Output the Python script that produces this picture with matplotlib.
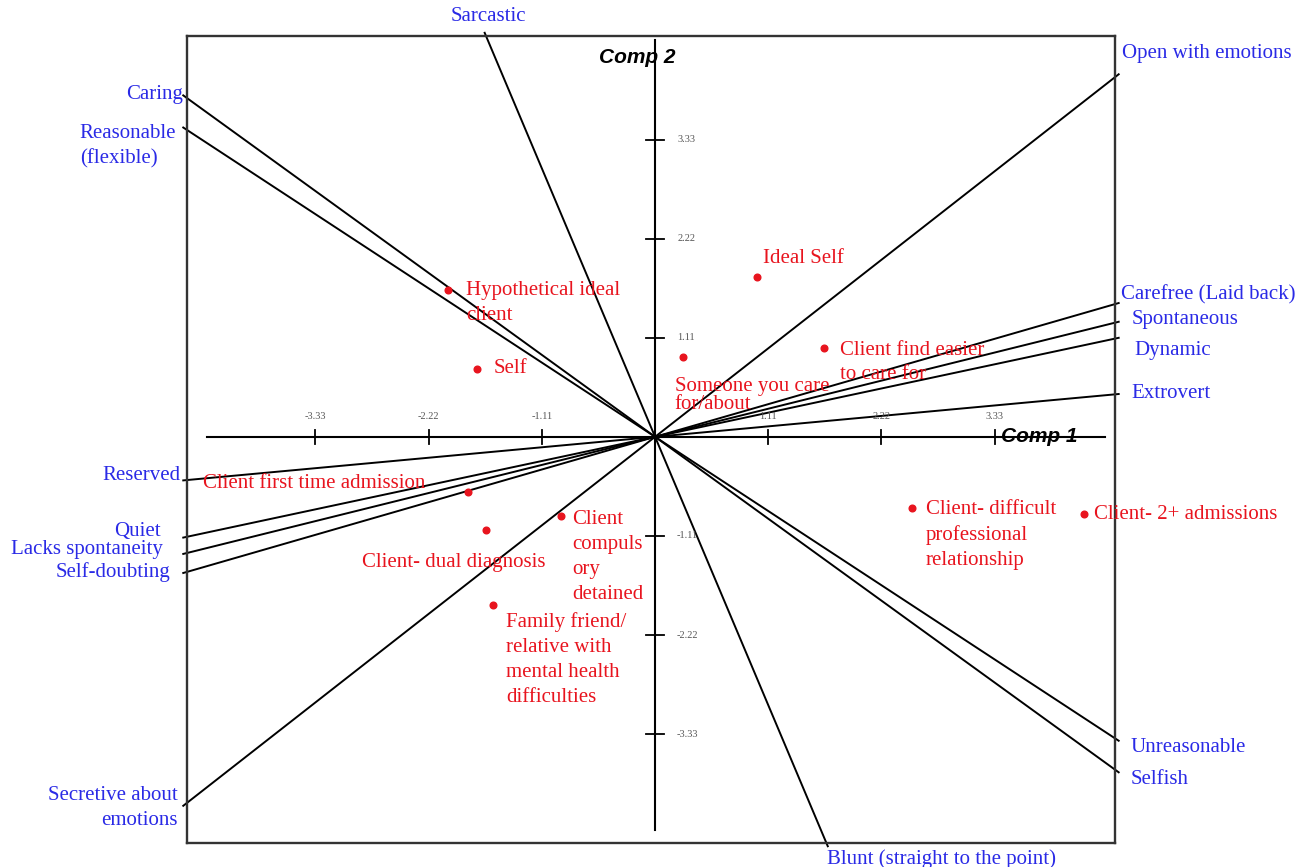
import numpy as np
import matplotlib.pyplot as plt

# construct poles: loadings of the right-hand pole on (Comp 1, Comp 2)
pole_pos = ['Open with emotions', 'Selfish', 'Unreasonable', 'Carefree (Laid back)',
            'Spontaneous', 'Dynamic', 'Extrovert', 'Blunt (straight to the point)']
pole_neg = ['Secretive about\nemotions', 'Caring', 'Reasonable\n(flexible)', 'Self-doubting',
            'Lacks spontaneity', 'Quiet', 'Reserved', 'Sarcastic']
load_c1 = [4.50, 4.50, 4.50, 4.55, 4.55, 4.55, 4.55, 1.68]
load_c2 = [4.02, -3.72, -3.37, 1.50, 1.29, 1.11, 0.48, -4.55]

# elements (role figures)
elements = ['Ideal Self', 'Hypothetical ideal\nclient', 'Self', 'Someone you care\nfor/about',
            'Client find easier\nto care for', 'Client first time admission',
            'Client- dual diagnosis', 'Client\ncompuls\nory\ndetained',
            'Family friend/\nrelative with\nmental health\ndifficulties',
            'Client- difficult\nprofessional\nrelationship', 'Client- 2+ admissions']
elem_c1 = [1.00, -2.03, -1.75, 0.27, 1.66, -1.83, -1.66, -0.92, -1.59, 2.52, 4.21]
elem_c2 = [1.79, 1.64, 0.76, 0.89, 1.00, -0.62, -1.04, -0.89, -1.88, -0.80, -0.86]

ticks = [-3.33, -2.22, -1.11, 1.11, 2.22, 3.33]

xmin, xmax = -4.59, 4.51
ymin, ymax = -4.55, 4.49

RED = '#e8141e'
BLUE = '#2a2ae6'
SERIF = 'Liberation Serif'
FS = 15

fig = plt.figure(figsize=(12.98, 8.67), dpi=100)
ax = fig.add_axes([187 / 1298, 1 - 843 / 867, 928 / 1298, 807 / 867])
ax.set_xlim(xmin, xmax)
ax.set_ylim(ymin, ymax)
ax.set_xticks([])
ax.set_yticks([])
for s in ax.spines.values():
    s.set_linewidth(1.7)
    s.set_color('#333333')

# axes through the origin
ax.plot([-4.39, 4.41], [0, 0], color='black', lw=1.5)
ax.plot([0, 0], [-4.40, 4.45], color='black', lw=1.5)
for t in ticks:
    ax.plot([t, t], [-0.08, 0.08], color='black', lw=1.3)
    ax.plot([-0.09, 0.09], [t, t], color='black', lw=1.3)
    ax.annotate(f'{t:.2f}', (t, 0), xytext=(0, 20), textcoords='offset pixels',
                ha='center', va='center', fontsize=7.5, color='#555555', family=SERIF)
    ax.annotate(f'{t:.2f}', (0, t), xytext=(22, 0), textcoords='offset pixels',
                ha='left', va='center', fontsize=7.5, color='#555555', family=SERIF)

ax.annotate('Comp 1', (3.33, 0), xytext=(6, 0), textcoords='offset pixels', ha='left',
            va='center', fontsize=15, fontweight='bold', fontstyle='italic', family='Liberation Sans')
ax.text(-0.17, 4.25, 'Comp 2', ha='center', va='center', fontsize=15,
        fontweight='bold', fontstyle='italic', family='Liberation Sans')


def hit_frame(vx, vy):
    # scale factor that takes (vx, vy) out to the frame
    ts = []
    ts.append((xmax if vx > 0 else xmin) / vx)
    ts.append((ymax if vy > 0 else ymin) / vy)
    return min(ts)


# label offsets in pixels: (positive pole), (negative pole)
pos_off = [((3, 21), 'left'), ((12, -7), 'left'), ((12, -7), 'left'), ((2, 8), 'left'),
           ((13, 2), 'left'), ((16, -13), 'left'), ((13, 1), 'left'), ((114, -13), 'center')]
neg_off = [((-6, -2), 'right'), ((0, 1), 'right'), ((-7, -19), 'right'), ((-13, 1), 'right'),
           ((-20, 4), 'right'), ((-23, 6), 'right'), ((-3, 5), 'right'), ((4, 16), 'center')]

for i in range(len(pole_pos)):
    vx, vy = load_c1[i], load_c2[i]
    tp = hit_frame(vx, vy) * 1.008
    tn = hit_frame(-vx, -vy) * 1.008
    p1 = (vx * tp, vy * tp)
    p0 = (-vx * tn, -vy * tn)
    ax.plot([p0[0], p1[0]], [p0[1], p1[1]], color='black', lw=1.4, clip_on=False)
    (off, ha) = pos_off[i]
    ax.annotate(pole_pos[i], p1, xytext=off, textcoords='offset pixels', ha=ha, va='center',
                fontsize=FS, color=BLUE, family=SERIF, annotation_clip=False)
    (off, ha) = neg_off[i]
    ma = 'left' if i == 2 else ha
    ax.annotate(pole_neg[i], p0, xytext=off, textcoords='offset pixels', ha=ha, va='center',
                multialignment=ma, fontsize=FS, color=BLUE, family=SERIF,
                annotation_clip=False, linespacing=1.42)

ax.plot(elem_c1, elem_c2, 'o', color=RED, ms=4.8, zorder=5)

elem_off = [((6, 19), 'left'), ((18, -13), 'left'), ((17, 0), 'left'), ((-8, -38), 'left'),
            ((16, -15), 'left'), ((-43, 9), 'right'), ((-32, -33), 'center'),
            ((11, -41), 'left'), ((13, -55), 'left'), ((14, -27), 'left'), ((10, -1), 'left')]
for name, x, y, (off, ha) in zip(elements, elem_c1, elem_c2, elem_off):
    ls = 0.97 if name.startswith('Someone') else 1.42
    ax.annotate(name, (x, y), xytext=off, textcoords='offset pixels', ha=ha, va='center',
                fontsize=FS, color=RED, family=SERIF, linespacing=ls, zorder=6)

fig.savefig('out.png', dpi=100)
